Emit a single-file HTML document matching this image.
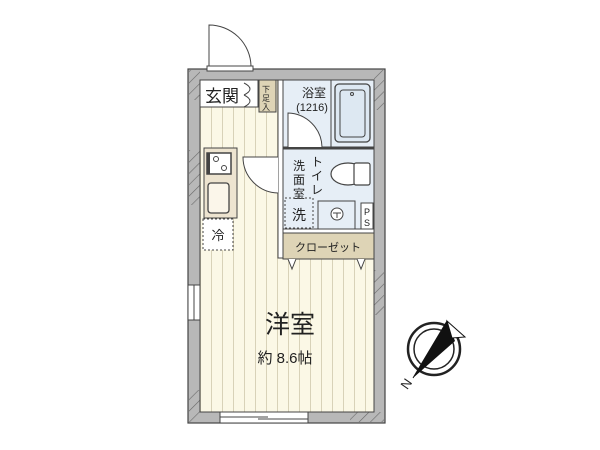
<!DOCTYPE html>
<html><head><meta charset="utf-8"><style>
html,body{margin:0;padding:0;background:#fff;width:600px;height:450px;overflow:hidden}
text{font-family:"Liberation Sans","Noto Sans CJK JP",sans-serif;fill:#222}
</style></head><body>
<svg width="600" height="450" viewBox="0 0 600 450" xmlns="http://www.w3.org/2000/svg">
<defs>
<pattern id="st" width="11" height="10" patternUnits="userSpaceOnUse" x="200">
<rect width="11" height="10" fill="#fbf8e6"/><line x1="0.5" y1="0" x2="0.5" y2="10" stroke="#d8d2b8" stroke-width="1"/>
</pattern>
<pattern id="ht" width="8" height="8" patternUnits="userSpaceOnUse" patternTransform="rotate(45)">
<line x1="0" y1="0" x2="0" y2="8" stroke="#555" stroke-width="1.2"/>
</pattern>
</defs>
<rect x="188" y="69" width="197" height="354" fill="#b8b8b8" stroke="#444" stroke-width="1.2"/>
<rect x="189" y="70" width="11" height="30" fill="url(#ht)" opacity=".8"/>
<rect x="374" y="70" width="10" height="40" fill="url(#ht)" opacity=".8"/>
<rect x="189" y="150" width="11" height="55" fill="url(#ht)" opacity=".8"/>
<rect x="374" y="270" width="10" height="45" fill="url(#ht)" opacity=".8"/>
<rect x="189" y="390" width="11" height="32" fill="url(#ht)" opacity=".8"/>
<rect x="350" y="412" width="34" height="10" fill="url(#ht)" opacity=".8"/>
<rect x="200" y="80" width="174" height="332" fill="url(#st)" stroke="#444" stroke-width="1"/>
<rect x="282" y="80" width="92" height="150" fill="#e6eef6" stroke="#444"/>
<line x1="282" y1="148" x2="374" y2="148" stroke="#444" stroke-width="3"/>
<rect x="278" y="80" width="5" height="178" fill="#fff" stroke="#444" stroke-width="1"/>
<rect x="283" y="229" width="91" height="4" fill="#fff" stroke="#444" stroke-width="1"/>
<rect x="200" y="80" width="58" height="27" fill="#fff" stroke="#444"/>
<rect x="259" y="80" width="17" height="32" fill="#ded4b6" stroke="#444"/>
<text x="266" y="92" font-size="8" text-anchor="middle">下</text>
<text x="266" y="101" font-size="8" text-anchor="middle">足</text>
<text x="266" y="110" font-size="8" text-anchor="middle">入</text>
<text x="205" y="102" font-size="17">玄関</text>
<path d="M244 83 q12 6 0 12 M244 95 q12 6 0 12" fill="none" stroke="#444"/>
<rect x="207" y="66" width="46" height="5" fill="#fff" stroke="#444"/>
<path d="M209 66 V25 A42 42 0 0 1 251 66" fill="none" stroke="#444"/>
<text x="314" y="97" font-size="12" text-anchor="middle">浴室</text>
<text x="312" y="111" font-size="11" text-anchor="middle">(1216)</text>
<line x1="331" y1="80" x2="331" y2="148" stroke="#444"/>
<rect x="335" y="84" width="35" height="58" rx="4" fill="#dde8f2" stroke="#444" stroke-width="1.3"/>
<rect x="340" y="90" width="25" height="47" rx="3" fill="none" stroke="#444"/>
<circle cx="352" cy="94" r="1.5" fill="none" stroke="#444"/>
<path d="M288 147 V113 A35 35 0 0 1 322 147" fill="#fff" stroke="#444"/>
<text x="317" y="166" font-size="12" text-anchor="middle">ト</text>
<text x="317" y="180" font-size="12" text-anchor="middle">イ</text>
<text x="317" y="194" font-size="12" text-anchor="middle">レ</text>
<text x="299" y="170" font-size="12" text-anchor="middle">洗</text>
<text x="299" y="184" font-size="12" text-anchor="middle">面</text>
<text x="299" y="198" font-size="12" text-anchor="middle">室</text>
<ellipse cx="348" cy="174" rx="17" ry="11" fill="#fff" stroke="#444" stroke-width="1.2"/>
<rect x="354" y="163" width="16" height="22" rx="2" fill="#fff" stroke="#444" stroke-width="1.2"/>
<rect x="285" y="198" width="28" height="30" fill="none" stroke="#444" stroke-dasharray="2,2"/>
<text x="299" y="220" font-size="14" text-anchor="middle">洗</text>
<rect x="318" y="201" width="37" height="28" fill="#e6eef6" stroke="#444"/>
<circle cx="337" cy="214" r="6" fill="#fff" stroke="#444"/>
<path d="M333 213 h8 M337 213 v5" stroke="#444"/>
<rect x="361" y="203" width="12" height="26" fill="#fff" stroke="#444"/>
<text x="367" y="215" font-size="9" text-anchor="middle">P</text>
<text x="367" y="226" font-size="9" text-anchor="middle">S</text>
<rect x="283" y="233" width="91" height="26" fill="#ded4b6" stroke="#444"/>
<text x="328" y="251" font-size="11" text-anchor="middle">クローゼット</text>
<path d="M288 259 l4 10 l4 -10 M357 259 l4 10 l4 -10" fill="#fff" stroke="#444"/>
<path d="M278 157 H243 A36 36 0 0 0 278 193" fill="#fff" stroke="#444"/>
<rect x="204" y="148" width="33" height="70" fill="#ede4d0" stroke="#444"/>
<rect x="207" y="153" width="24" height="21" fill="#fff" stroke="#444" stroke-width="1.5"/>
<rect x="207" y="153" width="3" height="21" fill="#444"/>
<circle cx="216" cy="159" r="2.5" fill="none" stroke="#444"/>
<circle cx="224" cy="168" r="2.5" fill="none" stroke="#444"/>
<rect x="208" y="183" width="21" height="30" rx="3" fill="#fbf6ea" stroke="#444" stroke-width="1.3"/>
<rect x="203" y="219" width="30" height="31" fill="#fff" stroke="#444" stroke-dasharray="2,2"/>
<text x="218" y="240" font-size="13" text-anchor="middle">冷</text>
<rect x="188" y="285" width="12" height="35" fill="#fff" stroke="#444"/>
<line x1="194" y1="285" x2="194" y2="320" stroke="#444"/>
<rect x="220" y="412" width="88" height="11" fill="#fff" stroke="#444"/>
<line x1="220" y1="417" x2="268" y2="417" stroke="#444"/>
<line x1="258" y1="419" x2="308" y2="419" stroke="#444"/>
<text x="290" y="333" font-size="25" text-anchor="middle">洋室</text>
<text x="285" y="363" font-size="15" text-anchor="middle">約 8.6帖</text>
<circle cx="434" cy="349" r="26" fill="#fff" stroke="#222" stroke-width="2.5"/>
<circle cx="434" cy="349" r="20" fill="none" stroke="#222" stroke-width="1.5"/>
<path d="M447 321 L413 378 L455 341 Z" fill="#111"/>
<path d="M447 321 L413 378 L440 333 Z" fill="#fff" stroke="#111"/>
<path d="M447 321 L465 337 L452 338 Z" fill="#fff" stroke="#111"/>
<text x="404" y="392" font-size="13" transform="rotate(-55 404 388)">N</text>
</svg>
</body></html>
